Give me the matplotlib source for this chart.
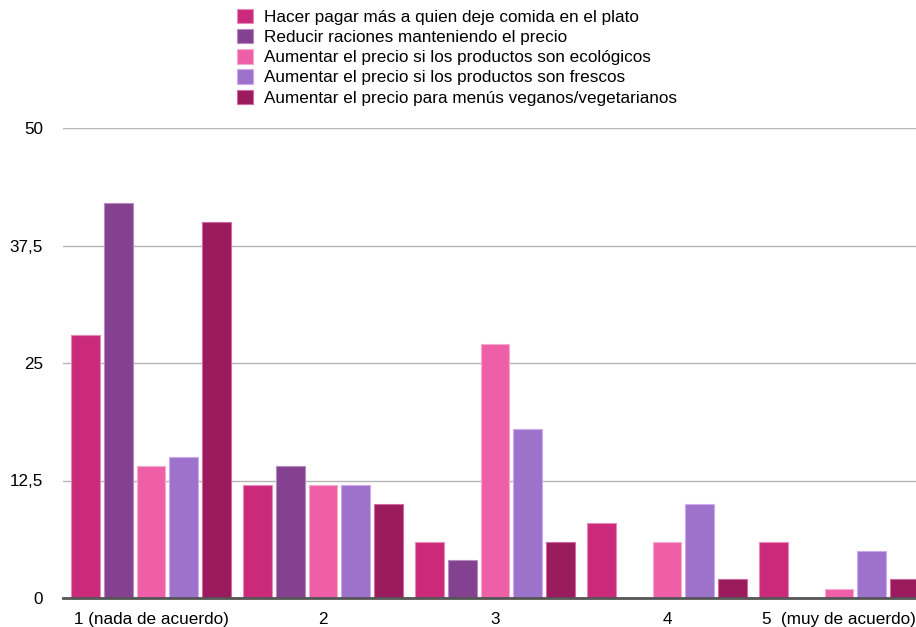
import numpy as np
import matplotlib
matplotlib.use("Agg")
import matplotlib.pyplot as plt

plt.rcParams['font.family'] = ['Liberation Sans', 'DejaVu Sans']

# categories (x axis)
categories = ["1 (nada de acuerdo)", "2", "3", "4", "5  (muy de acuerdo)"]

# series
series_names = [
    "Hacer pagar más a quien deje comida en el plato",
    "Reducir raciones manteniendo el precio",
    "Aumentar el precio si los productos son ecológicos",
    "Aumentar el precio si los productos son frescos",
    "Aumentar el precio para menús veganos/vegetarianos",
]
hacer_pagar = [28, 12, 6, 8, 6]
reducir_raciones = [42, 14, 4, 0, 0]
ecologicos = [14, 12, 27, 6, 1]
frescos = [15, 12, 18, 10, 5]
veganos = [40, 10, 6, 2, 2]
series_values = [hacer_pagar, reducir_raciones, ecologicos, frescos, veganos]

colors = ["#CB2A7B", "#83418F", "#EF5FA7", "#9C72CB", "#9A1A5E"]
edges = ["#E88AB8", "#B58BC0", "#F7A8D0", "#D0A8F0", "#D06A9E"]

y_ticks = [0, 12.5, 25, 37.5, 50]
y_tick_labels = ["0", "12,5", "25", "37,5", "50"]

fig = plt.figure(figsize=(9.16, 6.27), dpi=100)
ax = fig.add_axes([63 / 916, 29 / 627, 1 - 63 / 916, 470 / 627])

x = np.arange(1, len(categories) + 1)
pitch = 0.19
width = 0.168
for i, (name, vals) in enumerate(zip(series_names, series_values)):
    ax.bar(x + (i - 2) * pitch, vals, width, color=colors[i], edgecolor=edges[i],
           linewidth=0.8, label=name, zorder=3)

ax.set_xlim(0.488, 5.448)
ax.set_ylim(0, 50)
ax.set_yticks(y_ticks)
ax.set_yticklabels(y_tick_labels, fontsize=12.3)
ax.set_xticks(x)
ax.set_xticklabels(categories, fontsize=12.3)
ax.tick_params(axis='both', length=0)
ax.tick_params(axis='y', pad=14.4)
ax.tick_params(axis='x', pad=10)

ax.grid(axis='y', color='#b5b5b5', linewidth=1, zorder=0)
for s in ['top', 'right', 'left']:
    ax.spines[s].set_visible(False)
ax.spines['bottom'].set_color('#555555')
ax.spines['bottom'].set_linewidth(2)
ax.spines['bottom'].set_zorder(4)

fig.legend(loc='upper left', bbox_to_anchor=(237 / 916, 1 - 9 / 627),
           frameon=False, fontsize=12.3, handlelength=0.91, handleheight=0.91,
           handletextpad=0.65, labelspacing=0.24, borderpad=0, borderaxespad=0)

fig.savefig("out.png", dpi=100)
